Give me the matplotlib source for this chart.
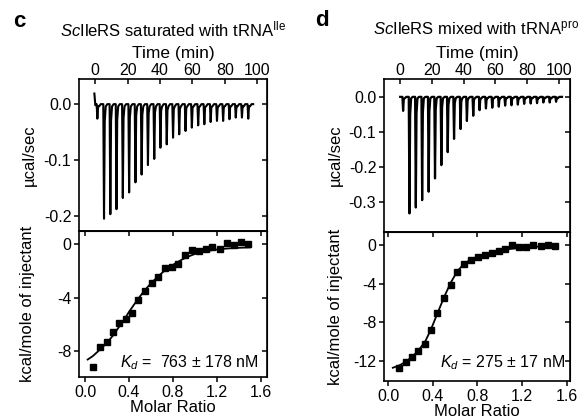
import numpy as np
import matplotlib
matplotlib.use("Agg")
import matplotlib.pyplot as plt

plt.rcParams["font.family"] = ["Liberation Sans", "DejaVu Sans"]
plt.rcParams["font.size"] = 12
plt.rcParams["axes.unicode_minus"] = False
plt.rcParams["mathtext.fontset"] = "custom"
plt.rcParams["mathtext.rm"] = "Liberation Sans"
plt.rcParams["mathtext.it"] = "Liberation Sans:italic"

# ---- panel c: ScIleRS saturated with tRNA-Ile ----
c_inj_time = [1.0, 5.1, 9.0, 12.8, 16.7, 20.6, 24.5, 28.3, 32.2, 36.1, 39.9, 43.8, 47.7,
              51.5, 55.4, 59.3, 63.2, 67.0, 70.9, 74.8, 78.6, 82.5, 86.4, 90.2, 94.1]
c_inj_peak = [-0.026, -0.205, -0.197, -0.188, -0.168, -0.158, -0.140, -0.126, -0.109,
              -0.098, -0.078, -0.072, -0.060, -0.054, -0.048, -0.042, -0.038, -0.036,
              -0.032, -0.030, -0.030, -0.027, -0.024, -0.024, -0.026]
c_ratio = [0.076, 0.136, 0.197, 0.251, 0.309, 0.370, 0.427, 0.485, 0.545, 0.606, 0.667,
           0.727, 0.788, 0.848, 0.909, 0.976, 1.036, 1.097, 1.158, 1.227, 1.288, 1.358,
           1.418, 1.485]
c_heat = [-9.16, -7.68, -7.30, -6.54, -5.85, -5.55, -5.10, -4.16, -3.47, -2.92, -2.48,
          -1.78, -1.71, -1.46, -0.82, -0.45, -0.54, -0.40, -0.22, -0.35, 0.05, -0.05,
          0.12, 0.02]
c_fit_x = [0.024, 0.07, 0.121, 0.165, 0.212, 0.26, 0.303, 0.35, 0.394, 0.44, 0.485, 0.53,
           0.576, 0.62, 0.667, 0.71, 0.758, 0.82, 0.879, 0.94, 1.0, 1.06, 1.12, 1.2,
           1.27, 1.38, 1.5]
c_fit_y = [-8.60, -8.35, -7.97, -7.63, -7.23, -6.76, -6.24, -5.70, -5.13, -4.58, -4.06,
           -3.58, -3.14, -2.76, -2.40, -2.08, -1.78, -1.45, -1.17, -0.93, -0.74, -0.60,
           -0.50, -0.41, -0.35, -0.29, -0.25]

# ---- panel d: ScIleRS mixed with tRNA-pro ----
d_inj_time = [1.5, 5.5, 9.5, 13.5, 17.6, 21.6, 25.6, 29.6, 33.6, 37.7, 41.7, 45.7, 49.7,
              53.7, 57.7, 61.8, 65.8, 69.8, 73.8, 77.8, 81.9, 85.9, 89.9, 93.9, 97.9]
d_inj_peak = [-0.040, -0.333, -0.316, -0.295, -0.271, -0.233, -0.195, -0.158, -0.120,
              -0.092, -0.069, -0.054, -0.038, -0.033, -0.031, -0.028, -0.025, -0.024,
              -0.022, -0.020, -0.019, -0.018, -0.016, -0.016, -0.014]
d_ratio = [0.096, 0.156, 0.213, 0.269, 0.326, 0.383, 0.440, 0.500, 0.560, 0.619, 0.682,
           0.739, 0.802, 0.864, 0.927, 0.990, 1.049, 1.112, 1.175, 1.238, 1.300, 1.367,
           1.430, 1.495]
d_heat = [-12.71, -12.09, -11.60, -10.98, -10.23, -8.75, -7.06, -5.48, -4.17, -2.79,
          -1.93, -1.55, -1.24, -1.00, -0.79, -0.62, -0.45, -0.03, -0.24, -0.24, 0.03,
          -0.07, 0.03, -0.10]
d_fit_x = [0.04, 0.10, 0.16, 0.22, 0.27, 0.33, 0.38, 0.44, 0.50, 0.56, 0.62, 0.68, 0.74,
           0.80, 0.87, 0.93, 1.00, 1.10, 1.20, 1.30, 1.40, 1.50]
d_fit_y = [-12.70, -12.45, -12.05, -11.50, -10.90, -10.00, -8.80, -7.10, -5.40, -3.90,
           -2.70, -1.95, -1.50, -1.20, -0.95, -0.75, -0.58, -0.40, -0.28, -0.20, -0.14,
           -0.10]

ratio_ticks = [0.0, 0.4, 0.8, 1.2, 1.6]
time_ticks = [0, 20, 40, 60, 80, 100]


def thermogram(inj_t, inj_y, t_start, t_end, head=None):
    t, y = [t_start], [0.0]
    if head is not None:
        t, y = [t_start, t_start + 0.6], [head, -0.002]
    for t0, d in zip(inj_t, inj_y):
        t += [t0 - 0.1, t0 + 0.35, t0 + 0.8, t0 + 1.4, t0 + 2.4]
        y += [0.0, d, d * 0.15, -0.004, 0.0]
    t.append(t_end)
    y.append(0.0)
    return t, y


def style_axes(ax_top, ax_bot, ylab_x):
    tk = dict(width=1.1, length=3.5)
    for ax in (ax_top, ax_bot):
        for s in ax.spines.values():
            s.set_linewidth(1.2)
        ax.tick_params(axis="y", direction="out", labelsize=11.5, pad=2, **tk)
        sec = ax.secondary_yaxis("right")
        sec.set_yticks(ax.get_yticks())
        sec.tick_params(direction="in", labelright=False, **tk)
    ax_top.xaxis.set_ticks_position("top")
    ax_top.xaxis.set_label_position("top")
    ax_top.tick_params(axis="x", direction="in", labelsize=11.5, pad=1, **tk)
    ax_top.set_xticks(time_ticks)
    ax_top.set_xlabel("Time (min)", labelpad=3, fontsize=12.5)
    ax_top.set_ylabel("µcal/sec")
    ax_top.yaxis.set_label_coords(ylab_x[0], 0.5)

    ax_bot.tick_params(axis="x", direction="out", labelsize=11.5, pad=2, **tk)
    ax_bot.set_xticks(ratio_ticks)
    ax_bot.set_xticklabels(["%.1f" % v for v in ratio_ticks])
    ax_bot.set_xlabel("Molar Ratio", labelpad=0)
    ax_bot.set_ylabel("kcal/mole of injectant")
    ax_bot.yaxis.set_label_coords(ylab_x[1], 0.5)
    st = ax_bot.secondary_xaxis("top")
    st.set_xticks(ratio_ticks)
    st.tick_params(direction="in", labeltop=False, **tk)


fig = plt.figure(figsize=(5.79, 4.18), dpi=100)

# panel c
axc_top = fig.add_axes([0.1364, 0.4474, 0.3247, 0.3636])
axc_bot = fig.add_axes([0.1364, 0.0981, 0.3247, 0.3493])
t, y = thermogram(c_inj_time, c_inj_peak, -0.5, 97.5, head=0.019)
axc_top.plot(t, y, color="black", lw=1.5)
axc_top.set_xlim(-10, 106)
axc_top.set_ylim(-0.227, 0.045)
axc_top.set_yticks([0.0, -0.1, -0.2])
axc_top.set_yticklabels(["0.0", "-0.1", "-0.2"])
axc_bot.plot(c_fit_x, c_fit_y, color="black", lw=1.3)
axc_bot.plot(c_ratio, c_heat, "s", color="black", ms=4.3)
axc_bot.set_xlim(-0.055, 1.655)
axc_bot.set_ylim(-9.9, 0.97)
axc_bot.set_yticks([0, -4, -8])
style_axes(axc_top, axc_bot, (-0.225, -0.235))
axc_bot.text(0.955, 0.096, r"$K_d$ =  763 ± 178 nM", transform=axc_bot.transAxes,
             ha="right", va="center", fontsize=11.5)

# panel d
axd_top = fig.add_axes([0.6632, 0.445, 0.3212, 0.366])
axd_bot = fig.add_axes([0.6632, 0.0885, 0.3212, 0.3565])
t, y = thermogram(d_inj_time, d_inj_peak, 0.0, 102.0)
axd_top.plot(t, y, color="black", lw=1.6)
axd_top.set_xlim(-10.2, 107)
axd_top.set_ylim(-0.386, 0.051)
axd_top.set_yticks([0.0, -0.1, -0.2, -0.3])
axd_top.set_yticklabels(["0.0", "-0.1", "-0.2", "-0.3"])
axd_bot.plot(d_fit_x, d_fit_y, color="black", lw=1.3)
axd_bot.plot(d_ratio, d_heat, "s", color="black", ms=4.3)
axd_bot.set_xlim(-0.039, 1.63)
axd_bot.set_ylim(-14.07, 1.34)
axd_bot.set_yticks([0, -4, -8, -12])
style_axes(axd_top, axd_bot, (-0.22, -0.22))
axd_bot.text(0.975, 0.121, r"$K_d$ = 275 ± 17 nM", transform=axd_bot.transAxes,
             ha="right", va="center", fontsize=11.5)

# titles and panel letters
fig.text(0.299, 0.93, r"$\it{Sc}$IleRS saturated with tRNA$^{\rm Ile}$",
         ha="center", va="center", fontsize=12)
fig.text(0.822, 0.93, r"$\it{Sc}$IleRS mixed with tRNA$^{\rm pro}$",
         ha="center", va="center", fontsize=12)
fig.text(0.022, 0.948, "c", fontsize=16, fontweight="bold", va="center")
fig.text(0.545, 0.952, "d", fontsize=16, fontweight="bold", va="center")

fig.savefig("out.png", dpi=100)
